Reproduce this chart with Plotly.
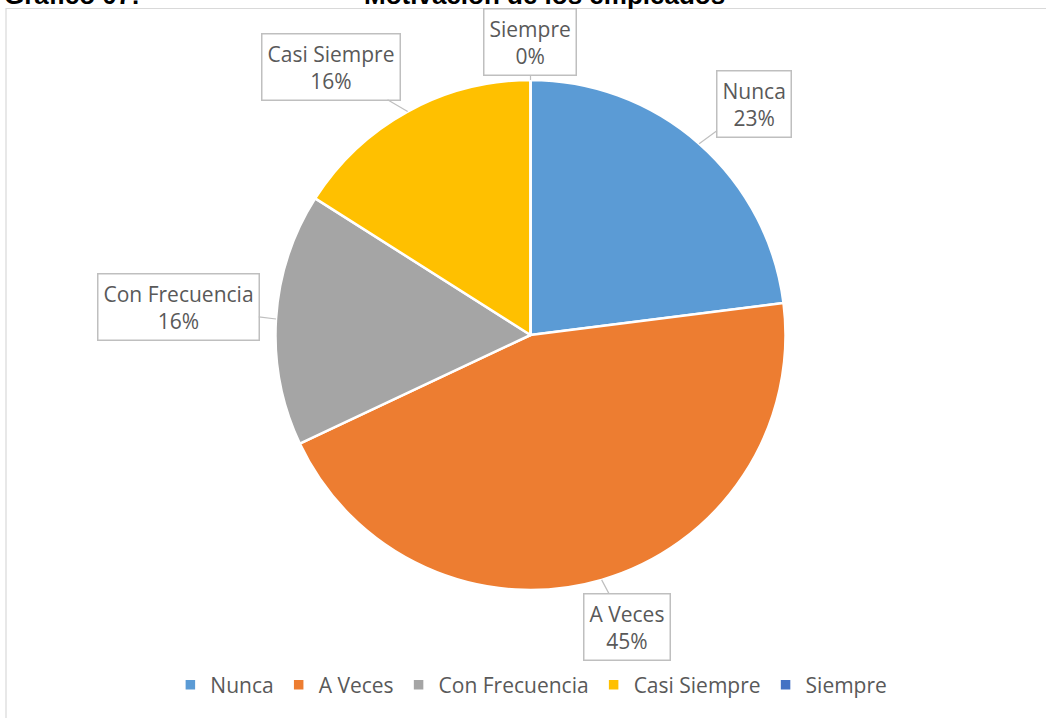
import math
import plotly.graph_objects as go

# Survey results: employee motivation
categories = ["Nunca", "A Veces", "Con Frecuencia", "Casi Siempre", "Siempre"]
percentages = [23, 45, 16, 16, 0]
colors = ["#5B9BD5", "#ED7D31", "#A5A5A5", "#FFC000", "#4472C4"]

title_left = "Gráfico 07:"
title_main = "Motivación de los empleados"

W, H = 1046, 718

# Pie placement (pixels)
pie_cx, pie_cy, pie_r = 530.5, 335.0, 255.0

# Callout offsets (pixels) from the slice edge to the label box centre
callout_offsets = {
    "Nunca": (55, -40),
    "A Veces": (25, 47),
    "Con Frecuencia": (-98, -12),
    "Casi Siempre": (-77, -45),
    "Siempre": (0, -38),
}

FONT = "Open Sans"
TEXT_COLOR = "#595959"
BORDER = "#BFBFBF"

fig = go.Figure()

fig.add_trace(go.Pie(
    labels=categories,
    values=percentages,
    sort=False,
    direction="clockwise",
    rotation=0,
    marker=dict(colors=colors, line=dict(color="white", width=2.5)),
    textinfo="none",
    domain=dict(
        x=[(pie_cx - pie_r) / W, (pie_cx + pie_r) / W],
        y=[1 - (pie_cy + pie_r) / H, 1 - (pie_cy - pie_r) / H],
    ),
    hovertemplate="%{label}: %{percent:.0%}<extra></extra>",
))

# Callout labels anchored on each slice's mid-angle
total = sum(percentages)
annotations = []
cum = 0.0
for name, val in zip(categories, percentages):
    frac = val / total
    mid = (cum + frac / 2) * 2 * math.pi
    cum += frac
    px = pie_cx + pie_r * math.sin(mid)
    py = pie_cy - pie_r * math.cos(mid)
    ax, ay = callout_offsets[name]
    annotations.append(dict(
        x=px / W, y=1 - py / H, xref="paper", yref="paper",
        text=f"{name}<br>{round(frac * 100)}%",
        showarrow=True, arrowhead=0, arrowwidth=1.2, arrowcolor=BORDER,
        ax=ax, ay=ay, standoff=0,
        font=dict(family=FONT, size=21, color=TEXT_COLOR),
        bgcolor="white", bordercolor=BORDER, borderwidth=1.5, borderpad=5,
        align="center",
    ))

# Heading, partly cut off at the top edge
title_font = dict(family="Liberation Sans, Arial", size=26, color="black")
annotations.append(dict(
    x=2 / W, y=1, xref="paper", yref="paper", xanchor="left", yanchor="top",
    yshift=22, text=f"<b>{title_left}</b>", showarrow=False, font=title_font,
))
annotations.append(dict(
    x=362 / W, y=1, xref="paper", yref="paper", xanchor="left", yanchor="top",
    yshift=22, text=f"<b>{title_main}</b>", showarrow=False, font=title_font,
))

fig.update_layout(
    width=W, height=H,
    margin=dict(l=0, r=0, t=0, b=0),
    paper_bgcolor="white",
    plot_bgcolor="white",
    annotations=annotations,
    shapes=[dict(
        type="rect", xref="paper", yref="paper",
        x0=6 / W, x1=1.01, y0=-0.01, y1=1 - 8.5 / H,
        line=dict(color="#D9D9D9", width=1.2), fillcolor="rgba(0,0,0,0)",
        layer="below",
    )],
    legend=dict(
        orientation="h", x=0.508, xanchor="center", y=1 - 685 / H, yanchor="middle",
        font=dict(family=FONT, size=21, color=TEXT_COLOR),
        traceorder="normal", itemclick=False, itemdoubleclick=False,
    ),
    showlegend=True,
)

fig.write_html("out.html")
